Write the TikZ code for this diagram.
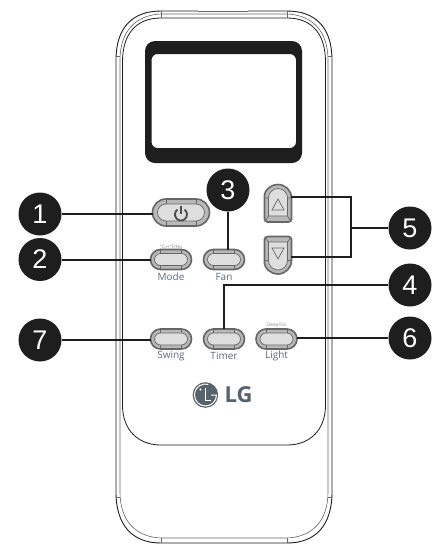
\documentclass[tikz,border=0pt]{standalone}
\usepackage{fontspec}
\setmainfont{Open Sans}
\setsansfont{Liberation Sans}
\newfontfamily\symfont{DejaVu Sans}
\definecolor{ink}{HTML}{1E1E1E}
\definecolor{btn}{HTML}{DEDEDE}
\definecolor{btnring}{HTML}{B8B8B8}
\definecolor{btnline}{HTML}{666666}
\definecolor{lab}{HTML}{5F6B78}
\definecolor{logo}{HTML}{56626C}
\tikzset{
  badge/.style={circle,fill=ink,draw=none,minimum size=43pt,inner sep=0pt,text=white,font=\fontsize{27}{27}\selectfont\sffamily},
  leader/.style={draw=ink,line width=2pt},
  body/.style={draw=ink,line width=0.9pt},
  thin/.style={draw=black!60,line width=0.6pt},
  keylab/.style={text=lab,font=\fontsize{10}{10}\selectfont,inner sep=0pt},
  tiny/.style={text=black!45,inner sep=0pt},
  keyouter/.style={draw=btnline,line width=1.6pt,fill=btnring},
  keyinner/.style={draw=btnline,line width=0.7pt,fill=btn},
  keydetail/.style={draw=btnline,line width=0.7pt},
  keybox/.style={inner sep=0pt,outer sep=0pt,minimum size=0pt},
}
% name, cx, cy, half width, half height, ring width
\newcommand{\oblong}[6]{%
  \filldraw[keyouter,rounded corners=#5pt] (#2-#4,#3-#5) rectangle (#2+#4,#3+#5);
  \filldraw[keyinner,rounded corners=#5pt-#6pt] (#2-#4+#6,#3-#5+#6) rectangle (#2+#4-#6,#3+#5-#6);
  \draw[keydetail] (#2-#4+#5,#3-#5) -- (#2-#4+#5,#3-#5+#6)
    (#2+#4-#5,#3-#5) -- (#2+#4-#5,#3-#5+#6)
    (#2-#4+#5,#3+#5) -- (#2-#4+#5,#3+#5-#6)
    (#2+#4-#5,#3+#5) -- (#2+#4-#5,#3+#5-#6);
  \node[keybox,minimum width=2*#4pt,minimum height=2*#5pt] (#1) at (#2,#3) {};
}
\begin{document}
\begin{tikzpicture}[x=1pt,y=-1pt]
\useasboundingbox (0,0) rectangle (440,550);
\fill[white] (0,0) rectangle (440,550);
% body
\draw[body] (116,60) .. controls (116,28) and (132,11) .. (161,11) -- (287,11) .. controls (316,11) and (332,28) .. (332,60) -- (332,492) .. controls (332,525) and (316,543) .. (287,543) -- (161,543) .. controls (132,543) and (116,525) .. (116,492) -- cycle;
\draw[white,line width=1.2pt] (198,11) -- (248,11);
\draw[thin] (198,11.5) -- (248,11.5);
\draw[thin] (120,60) .. controls (120,32) and (135,15) .. (161,14) -- (287,14) .. controls (313,15) and (328,32) .. (328,60) -- (328,492) .. controls (328,520) and (313,537) .. (287,538) -- (161,538) .. controls (135,537) and (120,520) .. (120,492) -- cycle;
\draw[body,line width=0.8pt] (122.5,62) .. controls (122.5,34) and (136,18) .. (161,18) -- (287,18) .. controls (312,18) and (325.5,34) .. (325.5,62) -- (325.5,405) .. controls (325.5,430) and (310,445) .. (287,445) -- (161,445) .. controls (138,445) and (122.5,430) .. (122.5,405) -- cycle;
\draw[thin] (116,56) -- (120,56) (328,56) -- (332,56) (116,497) -- (120,497) (328,497) -- (332,497) (161,11) -- (161,18) (287,11) -- (287,18) (161,538) -- (161,543) (287,538) -- (287,543);
% screen
\fill[ink,even odd rule,rounded corners=10pt] (145,41) rectangle (302,163)
  [rounded corners=6pt] (151.5,54) rectangle (296,148);
% buttons
\oblong{power}{181}{212.5}{28.5}{13.5}{5}
\oblong{mode}{171}{259.5}{20.5}{10}{4}
\oblong{fan}{224}{259.5}{20.5}{10}{4}
\oblong{swing}{171}{339}{20.5}{10}{4}
\oblong{timer}{224}{339}{20.5}{10}{4}
\oblong{light}{276.5}{339}{20.5}{10}{4}
% power icon
\draw[ink!80,line width=1.8pt] (177.56,209.6) arc[start angle=235,end angle=-55,radius=6];
\draw[ink!80,line width=1.8pt] (181,205.5) -- (181,214);
% up and down keys
\filldraw[keyouter,rounded corners=3pt] (264.5,222) -- (264.5,198) [sharp corners] arc[start angle=180,end angle=360,radius=13.5] [rounded corners=3pt] -- (291.5,222) -- cycle;
\filldraw[keyinner] (268.5,216) -- (268.5,198) arc[start angle=180,end angle=360,radius=9.5] -- (287.5,216) -- cycle;
\draw[keydetail] (264.5,198) -- (268.5,198) (287.5,198) -- (291.5,198) (265,221.5) -- (268.5,216) (291,221.5) -- (287.5,216);
\draw[keydetail] (272,210) -- (278,199) -- (284,210) -- cycle;
\filldraw[keyouter,rounded corners=3pt] (264.5,236.5) -- (264.5,260.5) [sharp corners] arc[start angle=180,end angle=0,radius=13.5] [rounded corners=3pt] -- (291.5,236.5) -- cycle;
\filldraw[keyinner] (268.5,242) -- (268.5,260.5) arc[start angle=180,end angle=0,radius=9.5] -- (287.5,242) -- cycle;
\draw[keydetail] (264.5,260.5) -- (268.5,260.5) (287.5,260.5) -- (291.5,260.5) (265,237) -- (268.5,242) (291,237) -- (287.5,242);
\draw[keydetail] (272,248) -- (278,259) -- (284,248) -- cycle;
% labels
\node[keylab] (tmode) at (171,277) {Mode};
\node[keylab] (tfan) at (224,277) {Fan};
\node[keylab] (tswing) at (171,356) {Swing};
\node[keylab] (ttimer) at (224,356) {Timer};
\node[keylab] (tlight) at (276.5,356) {Light};
\node[tiny,font=\fontsize{4.6}{5}\selectfont\symfont] (tunit) at (171,247) {°C↔°F/Hu};
\node[tiny,font=\fontsize{4.8}{5}\selectfont] (tsleep) at (276.5,325.5) {Sleep/Sci};
% logo
\fill[logo] (205.4,395) circle[radius=12.8];
\draw[white,line width=1pt] (205.4,388) -- (205.4,400.5) -- (210.5,400.5);
\draw[white,line width=1pt] (211,395) -- (216.5,395) arc[start angle=0,end angle=285,radius=11];
\fill[white] (200.5,389.5) circle[radius=1.1];
\node[inner sep=0pt,text=logo,font=\fontsize{22}{22}\selectfont\bfseries] (lg) at (238.7,395) {LG};
% badges
\node[badge] (b1) at (40,214) {1};
\node[badge] (b2) at (40,259.5) {2};
\node[badge] (b7) at (40,340) {7};
\node[badge] (b3) at (228,190) {3};
\node[badge] (b5) at (410,228) {5};
\node[badge] (b4) at (410,285) {4};
\node[badge] (b6) at (410,338) {6};
\coordinate (j5) at (350.7,228);
\coordinate (upc) at (291,197);
\coordinate (downc) at (291,256.7);
% leaders
\draw[leader] (b1) -- (b1 -| power.west);
\draw[leader] (b2) -- (b2 -| mode.west);
\draw[leader] (b7) -- (b7 -| swing.west);
\draw[leader] (b3) -- (b3 |- fan.north);
\draw[leader] (b4) -| (timer.north);
\draw[leader] (b6) -- (b6 -| light.east);
\draw[leader] (b5) -- (j5);
\draw[leader] (upc) -| (j5) |- (downc);
\end{tikzpicture}
\end{document}
